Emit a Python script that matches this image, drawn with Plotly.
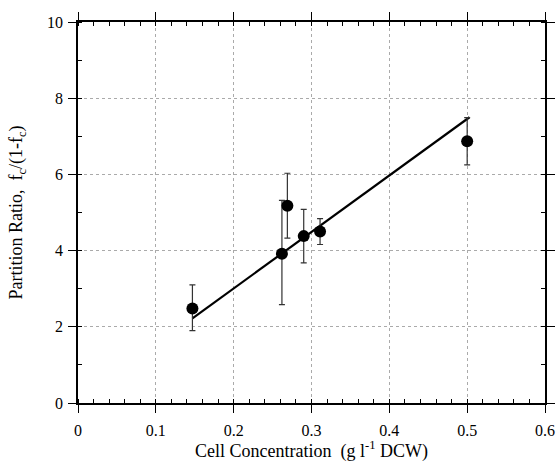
import plotly.graph_objects as go

# Data
cell_conc = [0.147, 0.262, 0.269, 0.290, 0.311, 0.500]
partition = [2.48, 3.92, 5.18, 4.38, 4.50, 6.87]
err_plus = [0.62, 1.40, 0.85, 0.70, 0.34, 0.62]
err_minus = [0.58, 1.34, 0.85, 0.70, 0.34, 0.62]

fit_x = [0.147, 0.503]
fit_y = [2.22, 7.50]

x_ticks = [0, 0.1, 0.2, 0.3, 0.4, 0.5, 0.6]
y_ticks = [0, 2, 4, 6, 8, 10]

font = "Liberation Serif, Times New Roman, serif"

fig = go.Figure()
fig.add_trace(go.Scatter(
    x=fit_x, y=fit_y, mode="lines",
    line=dict(color="black", width=2.2), showlegend=False,
))
fig.add_trace(go.Scatter(
    x=cell_conc, y=partition, mode="markers",
    marker=dict(color="black", size=12),
    error_y=dict(type="data", symmetric=False, array=err_plus, arrayminus=err_minus,
                 color="#333333", thickness=1.2, width=3),
    showlegend=False,
))

axis_common = dict(
    showline=True, linecolor="black", linewidth=1.5, mirror="ticks",
    ticks="outside", ticklen=8, tickwidth=1.2, tickcolor="black",
    showgrid=True, gridcolor="#aaaaaa", griddash="dot", gridwidth=1,
    zeroline=False, automargin=False,
    tickfont=dict(family=font, size=16, color="black"),
)

fig.update_xaxes(
    range=[0, 0.6], tickvals=x_ticks, ticktext=[str(v) for v in x_ticks],
    ticklabelstandoff=4,
    minor=dict(dtick=0.02, ticks="inside", ticklen=4, tickcolor="black", showgrid=False),
    title=dict(text="Cell Concentration\u00a0\u00a0(g l<sup>-1</sup> DCW)",
               font=dict(family=font, size=18, color="black"), standoff=10),
    **axis_common,
)
fig.update_yaxes(
    range=[0, 10], tickvals=y_ticks,
    ticklabelstandoff=2,
    minor=dict(dtick=1, ticks="inside", ticklen=4, tickcolor="black", showgrid=False),
    title=dict(text="Partition Ratio,\u00a0\u00a0f<sub>c</sub>/(1-f<sub>c</sub>)",
               font=dict(family=font, size=18, color="black"), standoff=20),
    **axis_common,
)

fig.update_layout(
    width=560, height=462,
    margin=dict(l=78, r=15, t=22, b=59),
    paper_bgcolor="white", plot_bgcolor="white",
    font=dict(family=font, color="black"),
)

fig.write_html(
    "out.html",
    config={"displayModeBar": False},
    post_script="document.body.style.margin='0';document.body.style.overflow='hidden';",
)
